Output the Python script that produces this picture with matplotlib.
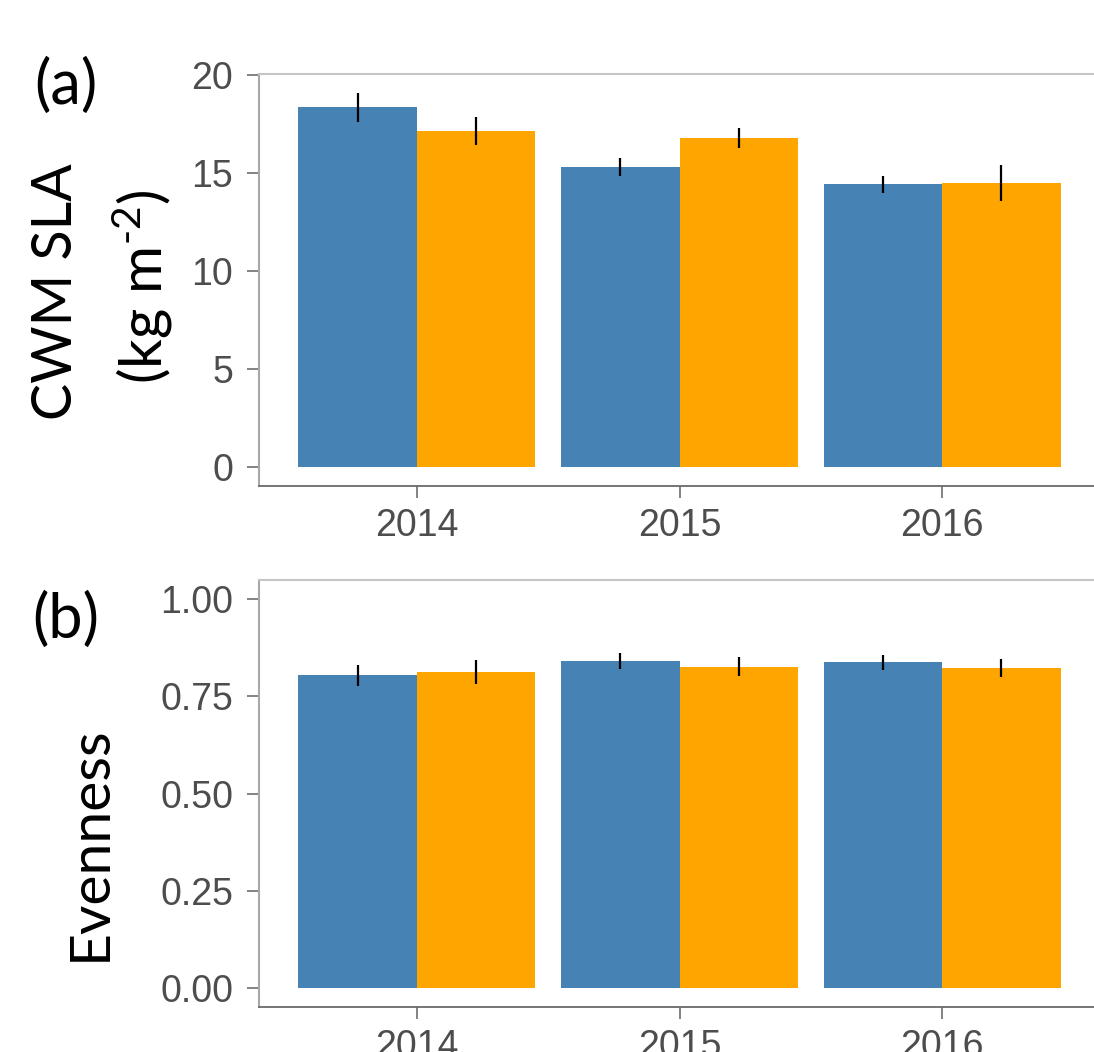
import numpy as np
import matplotlib
matplotlib.use("Agg")
import matplotlib.pyplot as plt

plt.rcParams["mathtext.fontset"] = "custom"
plt.rcParams["mathtext.rm"] = "Lato"
plt.rcParams["mathtext.it"] = "Lato:italic"

years = ["2014", "2015", "2016"]
groups = ["Control", "Treatment"]
colors = ["#4682B4", "#FFA500"]

sla_mean = [[18.35, 15.32, 14.42], [17.14, 16.80, 14.47]]
sla_se = [[0.75, 0.45, 0.42], [0.72, 0.50, 0.92]]

even_mean = [[0.804, 0.841, 0.838], [0.813, 0.827, 0.823]]
even_se = [[0.028, 0.021, 0.020], [0.032, 0.025, 0.024]]

W, H = 1094, 1052
fig = plt.figure(figsize=(W / 100, H / 100), dpi=100)

tick_color = "#4D4D4D"
label_font = "Lato"


def panel(rect, means, ses, ylim, yticks, yticklabels):
    ax = fig.add_axes(rect)
    x = np.arange(1, len(years) + 1)
    bw = 0.45
    for i, (m, s) in enumerate(zip(means, ses)):
        pos = x + (i - 0.5) * bw
        ax.bar(pos, m, width=bw, color=colors[i], edgecolor="none", zorder=2)
        ax.errorbar(pos, m, yerr=s, fmt="none", ecolor="black",
                    elinewidth=1.6, capsize=0, zorder=3)
    ax.set_xlim(0.4, 3.6)
    ax.set_ylim(*ylim)
    ax.set_xticks(x)
    ax.set_xticklabels(years)
    ax.set_yticks(yticks)
    ax.set_yticklabels(yticklabels)
    for lab in ax.get_xticklabels() + ax.get_yticklabels():
        lab.set_fontfamily("Liberation Sans")
        lab.set_fontsize(27)
        lab.set_color(tick_color)
    ax.tick_params(axis="both", length=8.5, width=1.3, color="#7a7a7a")
    ax.tick_params(axis="y", pad=10)
    ax.tick_params(axis="x", pad=7)
    ax.spines["left"].set_color("#a8a8a8")
    ax.spines["left"].set_linewidth(1.5)
    ax.spines["top"].set_color("#c4c4c4")
    ax.spines["top"].set_linewidth(1.5)
    ax.spines["bottom"].set_color("#6a6a6a")
    ax.spines["bottom"].set_linewidth(1.3)
    ax.spines["right"].set_visible(False)
    return ax


ax_a = panel([259 / W, 1 - 486 / H, (1100 - 259) / W, (486 - 74) / H],
             sla_mean, sla_se, (-0.96, 20.05),
             [0, 5, 10, 15, 20], ["0", "5", "10", "15", "20"])
ax_b = panel([259 / W, 1 - 1007 / H, (1100 - 259) / W, (1007 - 580) / H],
             even_mean, even_se, (-0.05, 1.05),
             [0, 0.25, 0.5, 0.75, 1.0], ["0.00", "0.25", "0.50", "0.75", "1.00"])

# Panel letters and axis titles
fig.text(66 / W, 1 - 86 / H, "(a)", fontsize=44, family=label_font,
         ha="center", va="center")
fig.text(66 / W, 1 - 620 / H, "(b)", fontsize=44, family=label_font,
         ha="center", va="center")
fig.text(56 / W, 1 - 292 / H, "CWM SLA", fontsize=40, family=label_font,
         rotation=90, ha="center", va="center")
fig.text(143 / W, 1 - 287 / H, r"(kg m$^{\text{-2}}$)", fontsize=42,
         family=label_font, rotation=90, ha="center", va="center")
fig.text(90 / W, 1 - 843 / H, "Evenness", fontsize=41, family=label_font,
         rotation=90, ha="center", va="center")

fig.savefig("out.png", dpi=100)
